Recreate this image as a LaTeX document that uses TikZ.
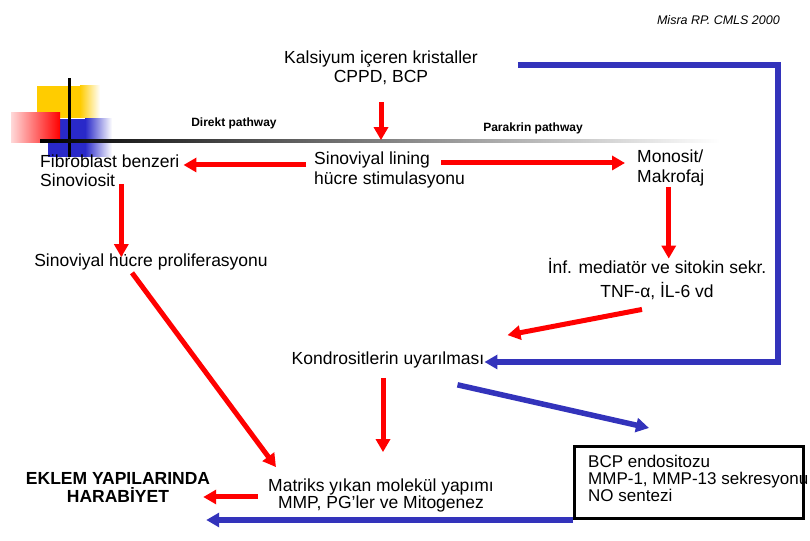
\documentclass[tikz,border=0pt]{standalone}
\usepackage{fontspec}
\setmainfont{Liberation Sans}
\usetikzlibrary{arrows.meta, calc}
\usepackage{xcolor}
\definecolor{kirmizi}{RGB}{255, 0, 0}
\definecolor{mavi}{RGB}{51, 51, 187}
\definecolor{sari}{RGB}{255, 204, 0}
\tikzset{
  metin/.style={inner sep=0pt, font=\fontsize{17.5}{19}\selectfont},
  metinK/.style={inner sep=0pt, font=\fontsize{17}{19}\selectfont},
  metinB/.style={inner sep=0pt, font=\bfseries\fontsize{17.5}{21}\selectfont},
  yol/.style={inner sep=0pt, font=\bfseries\fontsize{12}{14}\selectfont},
  kutu/.style={draw, line width=3pt, minimum width=229pt, minimum height=72pt, inner sep=0pt},
  ok/.style={-{Triangle[width=14pt, length=13pt]}, line width=5pt, kirmizi},
  okMavi/.style={-{Triangle[width=14pt, length=13pt]}, line width=5.5pt, mavi},
}

\begin{document}
\begin{tikzpicture}[x=1pt, y=1pt]
        \useasboundingbox (0,0) rectangle (810,540);

        % kose susu
        \fill[sari] (37,422) rectangle (80,454);
        \shade[left color=sari, right color=white] (80,422) rectangle (100,454);
        \fill[mavi!80!blue] (48,383) rectangle (85,421);
        \shade[left color=mavi!80!blue, right color=white] (85,383) rectangle (112,421);
        \shade[left color=kirmizi!15, right color=kirmizi] (11,397) rectangle (60,427);
        \fill (67.5,383) rectangle (70.5,462);
        \shade[left color=black, right color=white] (40,397.5) rectangle (720,400.5);

        \node[metin, anchor=base east, font=\itshape\fontsize{12.5}{14}\selectfont]
          (kaynak) at (780,515) {Misra RP. CMLS 2000};

        \node[metin, anchor=base] (kal1) at (381,476) {Kalsiyum içeren kristaller};
        \node[metin, anchor=base] (kal2) at (381,457) {CPPD, BCP};

        \node[yol, anchor=base] (direkt)   at (234,413) {Direkt pathway};
        \node[yol, anchor=base] (parakrin) at (533,408) {Parakrin pathway};

        \node[metin, anchor=base west] (fibro1)  at (40,372)  {Fibroblast benzeri};
        \node[metin, anchor=base west] (fibro2)  at (40,353)  {Sinoviosit};
        \node[metin, anchor=base west] (lining1) at (314,375) {Sinoviyal lining};
        \node[metin, anchor=base west] (lining2) at (314,355) {hücre stimulasyonu};
        \node[metin, anchor=base west] (mono1)   at (637,377) {Monosit/};
        \node[metin, anchor=base west] (mono2)   at (637,357) {Makrofaj};

        \node[metin, anchor=base] (prolif) at (151,273) {Sinoviyal hücre proliferasyonu};
        \node[metin, anchor=base] (inf1)   at (657,266) {İnf. mediatör ve sitokin sekr.};
        \node[metin, anchor=base] (inf2)   at (657,242) {TNF-α, İL-6 vd};
        \node[metin, anchor=base] (kondro) at (388,175) {Kondrositlerin uyarılması};

        \node[metin, anchor=base] (matriks1) at (381,48) {Matriks yıkan molekül yapımı};
        \node[metin, anchor=base] (matriks2) at (381,31) {MMP, PG’ler ve Mitogenez};

        \node[metinB, anchor=base] (eklem1) at (118,55) {EKLEM YAPILARINDA};
        \node[metinB, anchor=base] (eklem2) at (118,37) {HARABİYET};

        \node[kutu] (kutu) at (689,57.5) {};
        \node[metinK, anchor=base west] (bcp1) at (588,72) {BCP endositozu};
        \node[metinK, anchor=base west] (bcp2) at (588,55) {MMP-1, MMP-13 sekresyonu};
        \node[metinK, anchor=base west] (bcp3) at (588,38) {NO sentezi};

        \coordinate (kose) at (778,475);

        \draw[ok] ($(kal2.south)+(0,-17)$) -- ($(kal2.south |- lining1.north)+(0,12)$);
        \draw[ok] ($(lining1.base west)+(-8,0)$) -- ($(lining1.base west -| fibro1.east)+(4,0)$);
        \draw[ok] ($(lining1.base east)+(11,2)$) -- ($(lining1.base east -| mono1.west)+(-12,2)$);
        \draw[ok] ($(fibro2.base east)+(6,3)$) -- ($(fibro2.base east |- prolif.north)+(6,-3)$);
        \draw[ok] ($(mono2.south)+(-2,0)$) -- ($(mono2.south |- inf1.north)+(-2,0)$);
        \draw[ok] ($(inf2.south)+(-15,-9)$) -- ($(kondro.north east)+(23,17)$);
        \draw[okMavi] ($(kal1.east |- kose)+(40,0)$) -- (kose) |- ($(kondro.base east)+(0,3)$);
        \draw[ok] ($(prolif.south)+(-19,-2)$) -- ($(matriks1.north west)+(8,12)$);
        \draw[ok] ($(kondro.south)+(-5,-9)$) -- ($(kondro.south |- matriks1.north)+(-5,27)$);
        \draw[okMavi] ($(kondro.south east)+(-27,-16)$) -- ($(kutu.north)+(-40,17)$);
        \draw[ok] ($(matriks1.base west)+(-10,-5)$) -- ($(matriks1.base west -| eklem1.east)+(-7,-5)$);
        \draw[okMavi] (kutu.south west) -- ($(kutu.south west -| eklem1.east)+(-4,0)$);
      \end{tikzpicture}
\end{document}
